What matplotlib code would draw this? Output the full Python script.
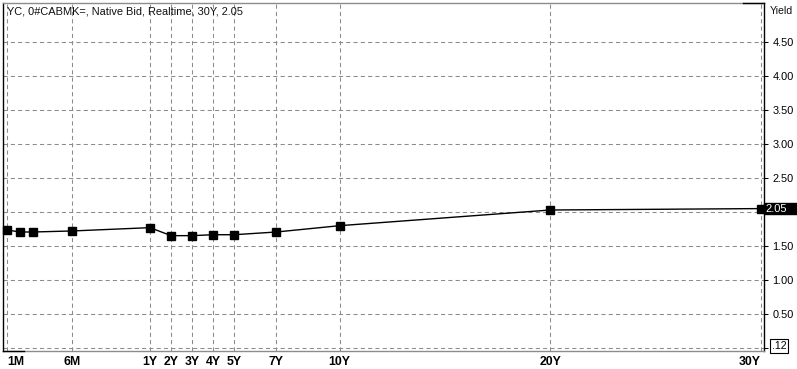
import numpy as np
import matplotlib
matplotlib.use("Agg")
import matplotlib.pyplot as plt
from matplotlib.patches import Rectangle

# ---- data ----
tenors = [1/12, 2/12, 3/12, 0.5, 1, 2, 3, 4, 5, 7, 10, 20, 30]
yields = [1.735, 1.705, 1.705, 1.72, 1.769, 1.651, 1.651, 1.665, 1.665, 1.705, 1.798, 2.029, 2.05]
tick_tenors = [1/12, 0.5, 1, 2, 3, 4, 5, 7, 10, 20, 30]
tick_labels = ["1M", "6M", "1Y", "2Y", "3Y", "4Y", "5Y", "7Y", "10Y", "20Y", "30Y"]
ytick_vals = [0.0, 0.5, 1.0, 1.5, 2.0, 2.5, 3.0, 3.5, 4.0, 4.5]
ytick_labels = ["", "0.50", "1.00", "1.50", "", "2.50", "3.00", "3.50", "4.00", "4.50"]
title = "YC, 0#CABMK=, Native Bid, Realtime, 30Y, 2.05"
last_value_label = "2.05"
low_label = ".12"

plt.rcParams['font.family'] = ['Liberation Sans', 'DejaVu Sans']

W, H = 797, 369
fig = plt.figure(figsize=(W/100, H/100), dpi=100)
L, R, T, B = 3, 764, 3, 351
ax = fig.add_axes([L/W, 1 - B/H, (R-L)/W, (B-T)/H])

# piecewise tenor scale: months spaced evenly up to 1Y, years after
MPX = 156.0
YPX = 21.07
def fwd(t):
    t = np.asarray(t, dtype=float)
    return np.where(t <= 1, t*MPX, MPX + (t-1)*YPX)
def inv(u):
    u = np.asarray(u, dtype=float)
    return np.where(u <= MPX, u/MPX, 1 + (u-MPX)/YPX)
ax.set_xscale('function', functions=(fwd, inv))
ax.set_xlim(inv(13 - 4), inv(MPX + 29*YPX + 3))
ax.set_ylim(-0.049, 5.08)

grid_kw = dict(color='#8c8c8c', lw=0.75, dashes=(4, 3), zorder=1)
for t in tick_tenors:
    ax.axvline(t, **grid_kw)
for v in ytick_vals:
    ax.axhline(v, **grid_kw)

ax.plot(tenors, yields, color='black', lw=1.0, marker='s', ms=5.2,
        mfc='black', mec='black', zorder=3, clip_on=False)

# x ticks
ax.set_xticks(tick_tenors)
ax.set_xticklabels(tick_labels, fontweight='bold', fontsize=8.8)
ax.tick_params(axis='x', length=0, pad=3.5)
for lab, txt in zip(ax.get_xticklabels(), tick_labels):
    if txt == "1M":
        lab.set_ha('left')
    elif txt == "30Y":
        lab.set_ha('right')

# y ticks on right
ax.yaxis.tick_right()
ax.set_yticks(ytick_vals)
ax.set_yticklabels(ytick_labels, fontsize=7.9, color='#111111')
ax.tick_params(axis='y', length=3, width=0.75, pad=3, colors='black')
ax.minorticks_off()

for s in ['left', 'right']:
    ax.spines[s].set_color('black')
    ax.spines[s].set_linewidth(1.0)
for s in ['top', 'bottom']:
    ax.spines[s].set_color('#8c8c8c')
    ax.spines[s].set_linewidth(1.0)

# short black segments on frame
ax.plot([0, 21/(R-L)], [0, 0], transform=ax.transAxes, color='black', lw=1.0, clip_on=False, zorder=5)
ax.plot([(743-L)/(R-L), 1], [1, 1], transform=ax.transAxes, color='black', lw=1.0, clip_on=False, zorder=5)

# title
fig.text(7/W, 1 - 12/H, title, fontsize=7.9, color='#111111', va='center', ha='left')
fig.text(770/W, 1 - 11/H, "Yield", fontsize=7.6, color='#111111', va='center', ha='left')

# last value box
yv = yields[-1]
ybox = ax.transData.transform((1, yv))[1]
fig.patches.append(Rectangle((764/W, (ybox - 5.5)/H), 33/W, 11/H, transform=fig.transFigure,
                             facecolor='black', edgecolor='black', zorder=10))
fig.text(765/W, ybox/H, last_value_label, fontsize=8.0, color='white', va='center', ha='left', zorder=11)

# low value box
fig.text(779/W, 1 - 346/H, low_label, fontsize=7.6, color='black', va='center', ha='center',
         bbox=dict(boxstyle='square,pad=0.15', facecolor='white', edgecolor='black', lw=0.8))

fig.savefig("out.png", dpi=100)
